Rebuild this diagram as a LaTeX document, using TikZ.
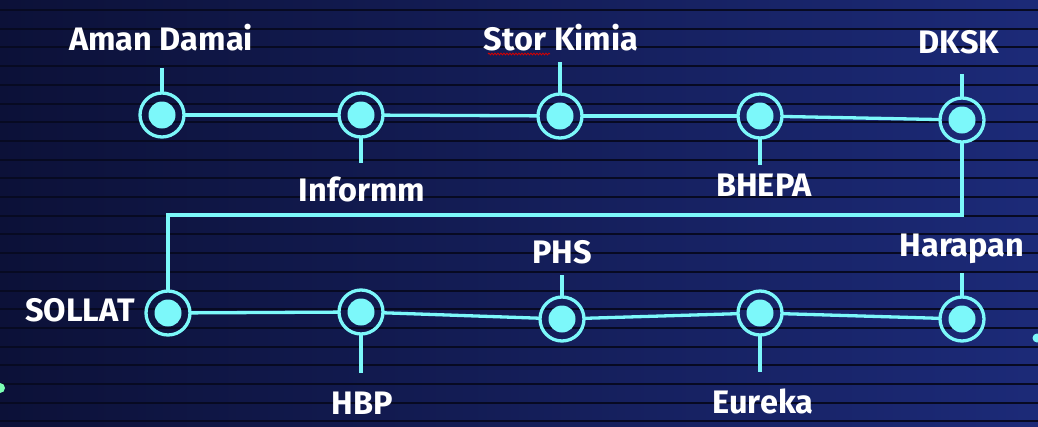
\documentclass[tikz,border=0pt]{standalone}
\usepackage{fontspec}
\setmainfont{Fira Sans}
\usetikzlibrary{decorations.pathmorphing}
\definecolor{bgL}{HTML}{0C1138}
\definecolor{bgM}{HTML}{18225F}
\definecolor{bgR}{HTML}{1C2A78}
\definecolor{stripe}{HTML}{070A22}
\definecolor{glow}{HTML}{7CF8FA}
\definecolor{mint}{HTML}{7CFFB4}
\tikzset{
  stop/.style={circle, draw=glow, line width=3.3pt, minimum size=44pt, inner sep=0pt, outer sep=0pt,
    path picture={\fill[glow] (path picture bounding box.center) circle (13.5pt);}},
  link/.style={draw=glow, line width=3.3pt},
  lbl/.style={text=white, font=\bfseries\fontsize{32.5}{32.5}\selectfont, anchor=base, inner sep=0pt},
}
\begin{document}
\begin{tikzpicture}[x=1pt,y=-1pt]
\useasboundingbox (0,0) rectangle (1038,426);
% background with horizontal stripes
\shade[left color=bgL, middle color=bgM, right color=bgR] (0,0) rectangle (1038,426);
\foreach \k in {0,...,22} {
  \draw[stripe, line width=2pt] (0,{10+18.7*\k}) -- (1038,{10+18.7*\k});
}
% stops
\node[stop] (A) at (162,115) {};
\node[stop] (B) at (361,115) {};
\node[stop] (C) at (560,116) {};
\node[stop] (D) at (760,116) {};
\node[stop] (E) at (962,120) {};
\node[stop] (F) at (168,313) {};
\node[stop] (G) at (361,312) {};
\node[stop] (H) at (562,319) {};
\node[stop] (I) at (760,313) {};
\node[stop] (J) at (962,319) {};
% stub ends
\coordinate (a) at (162,68);
\coordinate (b) at (361,163);
\coordinate (c) at (560,62);
\coordinate (d) at (760,165);
\coordinate (e) at (962,74);
\coordinate (g) at (361,373);
\coordinate (h) at (562,275);
\coordinate (i) at (760,372);
\coordinate (j) at (962,273);
\coordinate (turn) at (962,215);
% connectors
\path[link] (A) -- (B);
\path[link] (B) -- (C);
\path[link] (C) -- (D);
\path[link] (D) -- (E);
\path[link] (E) -- (turn) -| (F);
\path[link] (F) -- (G);
\path[link] (G) -- (H);
\path[link] (H) -- (I);
\path[link] (I) -- (J);
\path[link] (A) -- (a);
\path[link] (B) -- (b);
\path[link] (C) -- (c);
\path[link] (D) -- (d);
\path[link] (E) -- (e);
\path[link] (G) -- (g);
\path[link] (H) -- (h);
\path[link] (I) -- (i);
\path[link] (J) -- (j);
% labels
\node[lbl] (tA) at (161,50) {Aman Damai};
\node[lbl] (tB) at (362,201) {Informm};
\node[lbl] (tC) at (561,50) {Stor Kimia};
\node[lbl] (tD) at (764,196) {BHEPA};
\node[lbl] (tE) at (959,53) {DKSK};
\node[lbl] (tF) at (80,321) {SOLLAT};
\node[lbl] (tG) at (362,414) {HBP};
\node[lbl] (tH) at (562,263) {PHS};
\node[lbl] (tI) at (763,413) {Eureka};
\node[lbl] (tJ) at (962,256) {Harapan};
% spelling squiggle under "Stor"
\draw[red!85!black, line width=0.8pt, decorate, decoration={snake, amplitude=0.9pt, segment length=3pt}]
  (488,54) -- (550,54);
% edge dots
\fill[glow] (1037,338) circle (4.5pt);
\fill[mint] (0,388) circle (5pt);
\end{tikzpicture}
\end{document}
